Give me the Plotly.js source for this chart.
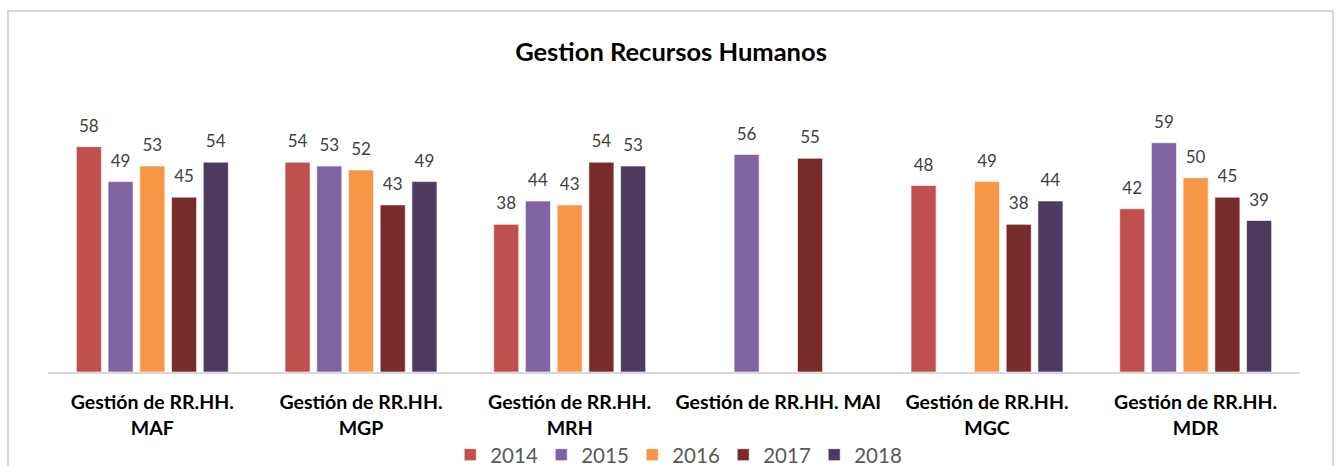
<!DOCTYPE html>
<html>
<head>
<meta charset="utf-8">
<script src="https://cdn.plot.ly/plotly-3.0.1.min.js"></script>
<style>
  html, body { margin: 0; padding: 0; background: #ffffff; }
  #chart { width: 1342px; height: 466px; }
  /* light grey chart frame, cut off at the bottom like the source */
  #frame {
    position: absolute; left: 7px; top: 10px; width: 1323px; height: 470px;
    border: 2px solid #d9d9d9; pointer-events: none;
  }
</style>
</head>
<body>
<div id="chart"></div>
<div id="frame"></div>
<script>
// Categories and tick labels
const categories = ['MAF', 'MGP', 'MRH', 'MAI', 'MGC', 'MDR'];
const tickLabels = [
    'Gestión de RR.HH.<br>MAF',
    'Gestión de RR.HH.<br>MGP',
    'Gestión de RR.HH.<br>MRH',
    'Gestión de RR.HH. MAI',
    'Gestión de RR.HH.<br>MGC',
    'Gestión de RR.HH.<br>MDR'
];

// Series values per year (null = no bar)
const years = ['2014', '2015', '2016', '2017', '2018'];
const v2014 = [58, 54, 38, null, 48, 42];
const v2015 = [49, 53, 44, 56, null, 59];
const v2016 = [53, 52, 43, null, 49, 50];
const v2017 = [45, 43, 54, 55, 38, 45];
const v2018 = [54, 49, 53, null, 44, 39];

const seriesValues = [v2014, v2015, v2016, v2017, v2018];
const seriesColors = ['#c0504d', '#8064a2', '#f79646', '#772b2b', '#4d3a5f'];

// Labels float a little above the bars, like the Excel original
const LABEL_BOX = 11;

const barTraces = years.map((year, i) => ({
    type: 'bar',
    name: year,
    x: categories,
    y: seriesValues[i],
    offsetgroup: year,
    marker: {
        color: seriesColors[i],
        line: { color: 'rgba(255,255,255,0.6)', width: 1 }
    },
    hoverinfo: 'x+y+name'
}));

// transparent boxes sitting on top of each bar, only to carry the value label
const labelTraces = years.map((year, i) => ({
    type: 'bar',
    name: year + ' label',
    showlegend: false,
    x: categories,
    base: seriesValues[i],
    y: seriesValues[i].map(v => v === null ? null : LABEL_BOX),
    offsetgroup: year,
    text: seriesValues[i].map(v => v === null ? '' : String(v)),
    textposition: 'inside',
    insidetextanchor: 'middle',
    textangle: 0,
    constraintext: 'none',
    textfont: { family: 'Lato, sans-serif', size: 17, color: '#404040' },
    marker: { color: 'rgba(0,0,0,0)' },
    hoverinfo: 'skip',
    cliponaxis: false
}));

const layout = {
    width: 1342,
    height: 466,
    title: {
        text: '<b>Gestion Recursos Humanos</b>',
        font: { family: 'Lato, sans-serif', size: 25.5, color: '#000000' },
        x: 0.5,
        xanchor: 'center',
        y: 0.888,
        yanchor: 'middle'
    },
    barmode: 'group',
    bargap: 0.24,
    bargroupgap: 0.21,
    margin: { l: 48, r: 42, t: 100, b: 94 },
    paper_bgcolor: '#ffffff',
    plot_bgcolor: '#ffffff',
    xaxis: {
        type: 'category',
        automargin: false,
        tickvals: categories,
        ticktext: tickLabels,
        tickfont: { family: 'Lato, sans-serif', size: 19.5, color: '#000000', weight: 'bold' },
        ticks: '',
        ticklabelstandoff: 12,
        showline: true,
        linecolor: '#d9d9d9',
        linewidth: 2,
        showgrid: false
    },
    yaxis: {
        range: [0, 70],
        visible: false,
        showgrid: false,
        zeroline: false
    },
    legend: {
        orientation: 'h',
        x: 0.505,
        xref: 'container',
        xanchor: 'center',
        y: 0.024,
        yref: 'container',
        yanchor: 'middle',
        font: { family: 'Lato, sans-serif', size: 20.5, color: '#595959' },
        traceorder: 'normal',
        entrywidth: 46
    },
    showlegend: true
};

const config = { displayModeBar: false, responsive: false };

Plotly.newPlot('chart', barTraces.concat(labelTraces), layout, config);
</script>
</body>
</html>
